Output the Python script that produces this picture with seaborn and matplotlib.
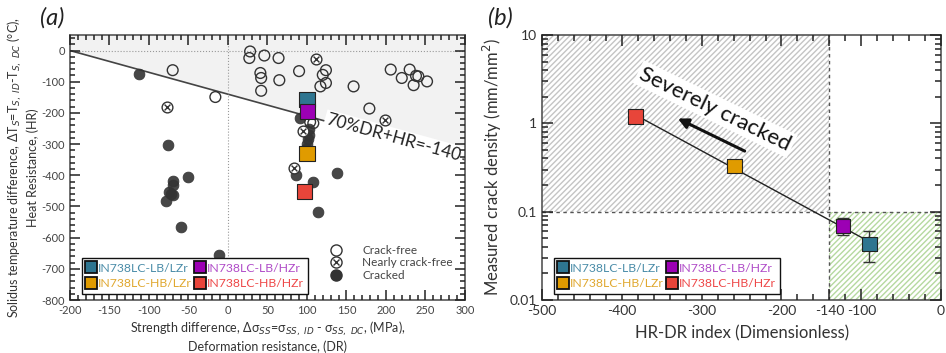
import numpy as np
import pandas as pd
import matplotlib
matplotlib.use("Agg")
import matplotlib.pyplot as plt
from matplotlib.lines import Line2D
from matplotlib.ticker import MultipleLocator, LogLocator, NullFormatter, FixedLocator
import seaborn as sns

sns.set_style("ticks")
plt.rcParams['font.family'] = ['Lato', 'DejaVu Sans']
plt.rcParams['mathtext.fontset'] = 'dejavusans'
plt.rcParams['axes.unicode_minus'] = False
plt.rcParams['axes.axisbelow'] = False
for k in ["xtick.major.size", "ytick.major.size"]:
    plt.rcParams[k] = 7
for k in ["xtick.minor.size", "ytick.minor.size"]:
    plt.rcParams[k] = 3.5
for k in ["xtick.major.width", "ytick.major.width", "xtick.minor.width", "ytick.minor.width"]:
    plt.rcParams[k] = 1.1
plt.rcParams["xtick.direction"] = "in"
plt.rcParams["ytick.direction"] = "in"
plt.rcParams["xtick.top"] = True
plt.rcParams["ytick.right"] = True

# ---------------- data: panel (a) ----------------
free_dr = [28, 27, 46, 64, -70, 41, 42, 65, 42, -16, 90, 124, 120, 124, 117, 159, 179,
           206, 220, 230, 235, 238, 241, 252, 104, 108]
free_hr = [-3, -24, -16, -24, -63, -72, -88, -95, -129, -149, -66, -63, -78, -104, -115,
           -115, -186, -61, -88, -61, -111, -81, -83, -99, -229, -233]
near_dr = [111, -77, 95, 84, 199]
near_hr = [-28, -181, -258, -376, -222]
crack_dr = [-113, -76, -69, -70, -75, -78, -69, -51, -60, -11, 91, 103, 102, 101, 100, 99,
            86, 107, 138, 114, -72]
crack_hr = [-74, -302, -419, -430, -454, -482, -462, -406, -566, -655, -215, -250, -270,
            -285, -300, -315, -400, -423, -392, -518, -460]

alloys = ["IN738LC-LB/LZr", "IN738LC-LB/HZr", "IN738LC-HB/LZr", "IN738LC-HB/HZr"]
alloy_colors = ["#2e7590", "#9c00b4", "#e09b00", "#e8453a"]
alloy_text_colors = ["#4a8ca8", "#b04cc8", "#e0a830", "#ee4848"]
alloy_dr = [100, 101, 100, 97]
alloy_hr = [-156, -195, -330, -453]

crit_dr = [-200, 300]

# ---------------- data: panel (b) ----------------
index_x = [-90, -123, -259, -383]
density = [0.043, 0.069, 0.33, 1.19]
dens_lo = [0.016, 0.014, 0.03, 0.0]
dens_hi = [0.017, 0.016, 0.03, 0.0]

fig = plt.figure(figsize=(9.46, 3.53), dpi=100)
ax1 = fig.add_axes([0.074, 0.150, 0.4175, 0.751])
ax2 = fig.add_axes([0.573, 0.150, 0.4218, 0.751])

TICK_COL = "#222222"

# ---------- panel (a) ----------
cx = np.array(crit_dr, dtype=float)
cy = -140 - 0.7 * cx
ax1.fill_between(cx, cy, 50, color="#f2f2f2", lw=0, zorder=0)
ax1.plot(cx, cy, color="#444444", lw=1.2, zorder=1)
ax1.axhline(0, color="#999999", lw=0.8, ls=":", zorder=1)
ax1.axvline(0, color="#999999", lw=0.8, ls=":", zorder=1)

df_free = pd.DataFrame({"DR": free_dr, "HR": free_hr})
df_near = pd.DataFrame({"DR": near_dr, "HR": near_hr})
df_crack = pd.DataFrame({"DR": crack_dr, "HR": crack_hr})
sns.scatterplot(data=df_crack, x="DR", y="HR", ax=ax1, s=60, color="#333333",
                edgecolor="#333333", linewidth=0.6, alpha=0.9, zorder=3)
sns.scatterplot(data=df_free, x="DR", y="HR", ax=ax1, s=60, facecolor="none",
                edgecolor="#333333", linewidth=1.0, zorder=4)
sns.scatterplot(data=df_near, x="DR", y="HR", ax=ax1, s=60, facecolor="white",
                edgecolor="#333333", linewidth=1.0, zorder=4)
sns.scatterplot(data=df_near, x="DR", y="HR", ax=ax1, s=18, marker="x",
                color="#333333", linewidth=1.0, zorder=5)

df_alloy = pd.DataFrame({"DR": alloy_dr, "HR": alloy_hr, "alloy": alloys})
sns.scatterplot(data=df_alloy, x="DR", y="HR", hue="alloy", palette=alloy_colors,
                hue_order=alloys, marker="s", s=120, edgecolor="#222222", linewidth=0.8,
                ax=ax1, zorder=6, legend=False)

ang = np.degrees(np.arctan2(-0.7 * 0.751 * 353 / 850, 0.4175 * 946 / 500))
ax1.text(210, -281, "70%DR+HR=-140", rotation=ang, rotation_mode="anchor",
         ha="center", va="center", fontsize=12.5, color="#222222",
         bbox=dict(facecolor="white", edgecolor="none", pad=1.5), zorder=2)

ax1.set_xlim(-200, 300)
ax1.set_ylim(-800, 50)
ax1.xaxis.set_major_locator(MultipleLocator(50))
ax1.xaxis.set_minor_locator(MultipleLocator(10))
ax1.yaxis.set_major_locator(MultipleLocator(100))
ax1.yaxis.set_minor_locator(MultipleLocator(20))
ax1.tick_params(which="both", direction="in", top=True, right=True, labelsize=8,
                labelcolor="#444444", color=TICK_COL)
for sp in ax1.spines.values():
    sp.set_color("#555555")
    sp.set_linewidth(1.2)
ax1.set_axisbelow(False)
ax1.set_xlabel("Strength difference, Δσ$_{SS}$=σ$_{SS,\\ ID}$ - σ$_{SS,\\ DC}$, (MPa),\n"
               "Deformation resistance, (DR)", fontsize=9, color="#333333", labelpad=3)
ax1.set_ylabel("Solidus temperature difference, ΔT$_S$=T$_{S,\\ ID}$-T$_{S,\\ DC}$ (°C),\n"
               "Heat Resistance, (HR)", fontsize=9, color="#333333", labelpad=2)

h_free = Line2D([], [], ls="none", marker="o", ms=8, mfc="none", mec="#333333", mew=1.0)
h_near_c = Line2D([], [], ls="none", marker="o", ms=8, mfc="white", mec="#333333", mew=1.0)
h_near_x = Line2D([], [], ls="none", marker="x", ms=4.5, color="#333333", mew=1.0)
h_crack = Line2D([], [], ls="none", marker="o", ms=8, color="#333333")
leg_type = ax1.legend([h_free, (h_near_c, h_near_x), h_crack],
                      ["Crack-free", "Nearly crack-free", "Cracked"],
                      loc="lower right", bbox_to_anchor=(0.99, 0.04), frameon=False,
                      fontsize=8.5, handletextpad=1.2, labelspacing=0.15, borderpad=0.2)
for t in leg_type.get_texts():
    t.set_color("#444444")
ax1.add_artist(leg_type)


def alloy_legend(ax, anchor):
    # ncol=2 fills column-wise: order so rows read LB/LZr, LB/HZr | HB/LZr, HB/HZr
    order = [0, 2, 1, 3]
    handles = [Line2D([], [], ls="none", marker="s", ms=8.5, mfc=alloy_colors[i],
                      mec="#111111", mew=1.3) for i in order]
    labels = [alloys[i] for i in order]
    leg = ax.legend(handles, labels, ncol=2, loc="lower left", bbox_to_anchor=anchor,
                    fontsize=8.8, handletextpad=0.1, columnspacing=0.2, labelspacing=0.4,
                    borderpad=0.35, handlelength=0.9, borderaxespad=0.3, frameon=True,
                    fancybox=False, edgecolor="#111111", framealpha=1)
    leg.get_frame().set_linewidth(1.0)
    for t, i in zip(leg.get_texts(), order):
        t.set_color(alloy_text_colors[i])
    return leg


alloy_legend(ax1, (0.02, 0.01))

# ---------- panel (b) ----------
ax2.set_yscale("log")
ax2.fill_between([-500, -140], 0.1, 10, facecolor="none", edgecolor="#c4c4c4",
                 hatch="//////", lw=0, zorder=0)
ax2.fill_between([-140, 0], 0.01, 0.1, facecolor="none", edgecolor="#b5d9a0",
                 hatch="//////", lw=0, zorder=0)
ax2.axvline(-140, color="#555555", lw=1.0, ls=(0, (2.5, 2.5)), zorder=1)
ax2.axhline(0.1, color="#555555", lw=1.0, ls=(0, (2.5, 2.5)), zorder=1)

xs = np.array(index_x, dtype=float)
coef = np.polyfit(xs, np.log10(density), 1)
fx = np.array([xs.min(), xs.max()])
ax2.plot(fx, 10 ** np.polyval(coef, fx), color="#222222", lw=1.0, zorder=2)

ax2.errorbar(index_x, density, yerr=[dens_lo, dens_hi], fmt="none", ecolor="#333333",
             elinewidth=1.0, capsize=4, capthick=1.0, zorder=3)
df_b = pd.DataFrame({"x": index_x, "y": density, "alloy": alloys})
sns.scatterplot(data=df_b, x="x", y="y", hue="alloy", palette=alloy_colors,
                hue_order=alloys, marker="s", s=110, edgecolor="#222222", linewidth=0.8,
                ax=ax2, zorder=4, legend=False)

ax2.annotate("", xy=(-333, 1.17), xytext=(-243, 0.47),
             arrowprops=dict(arrowstyle="-|>,head_length=0.6,head_width=0.3",
                             color="#111111", lw=2.2), zorder=5)
ax2.text(-283, 1.45, "Severely cracked", rotation=-26, ha="center", va="center",
         fontsize=16, color="#111111",
         bbox=dict(facecolor="white", edgecolor="none", pad=2), zorder=5)

ax2.set_xlim(-500, 0)
ax2.set_ylim(0.01, 10)
ax2.xaxis.set_major_locator(FixedLocator([-500, -400, -300, -200, -140, -100, 0]))
ax2.xaxis.set_minor_locator(MultipleLocator(20))
ax2.yaxis.set_major_locator(FixedLocator([0.01, 0.1, 1, 10]))
ax2.yaxis.set_minor_locator(LogLocator(base=10, subs=np.arange(2, 10), numticks=20))
ax2.yaxis.set_minor_formatter(NullFormatter())
ax2.set_yticklabels(["0.01", "0.1", "1", "10"])
ax2.tick_params(which="both", direction="in", top=True, right=True, labelsize=10,
                labelcolor="#333333", color=TICK_COL)
ax2.tick_params(which="major", length=8)
ax2.tick_params(which="minor", length=4)
for sp in ax2.spines.values():
    sp.set_color("#555555")
    sp.set_linewidth(1.2)
ax2.set_axisbelow(False)
ax2.set_xlabel("HR-DR index (Dimensionless)", fontsize=12, color="#333333", labelpad=6)
ax2.set_ylabel("Measured crack density (mm/mm$^2$)", fontsize=12, color="#333333",
               labelpad=4)
alloy_legend(ax2, (0.02, 0.01))

fig.text(0.042, 0.93, "(a)", fontsize=17, style="italic", color="#222222")
fig.text(0.516, 0.93, "(b)", fontsize=17, style="italic", color="#222222")

fig.savefig("out.png", dpi=100)
